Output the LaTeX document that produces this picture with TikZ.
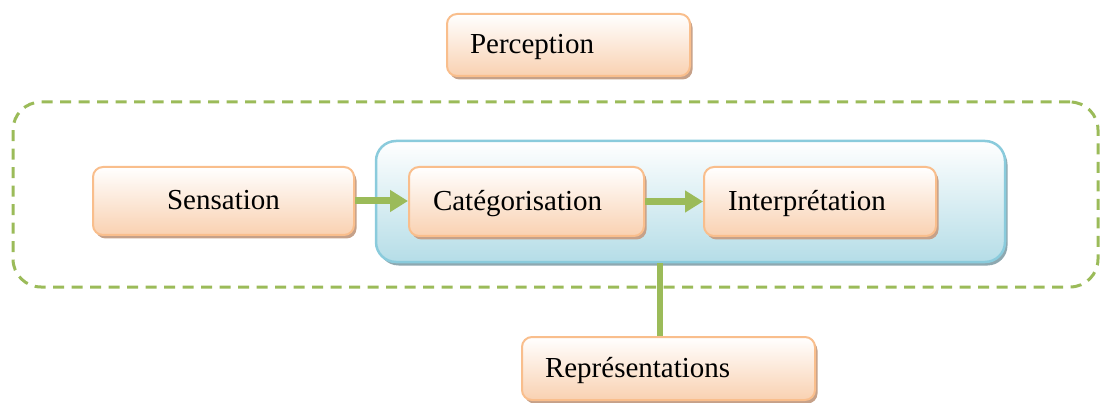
\documentclass[tikz,border=0pt]{standalone}
\usepackage{fontspec}
\setmainfont{Liberation Serif}
\usetikzlibrary{shadows,arrows.meta}
\definecolor{oborder}{HTML}{F9BE8C}
\definecolor{obottom}{HTML}{F9D1B1}
\definecolor{oshadow}{HTML}{C6A189}
\definecolor{bborder}{HTML}{8ACBDC}
\definecolor{bbottom}{HTML}{B5DDE7}
\definecolor{bshadow}{HTML}{8EA8B0}
\definecolor{lgreen}{HTML}{9BBB59}
\tikzset{
  obox/.style={draw=oborder, line width=2pt, rounded corners=10pt,
    top color=white, bottom color=obottom,
    drop shadow={shadow xshift=2.5pt, shadow yshift=-3.5pt, fill=oshadow, opacity=1},
    font=\fontsize{29}{34}\selectfont, text height=19pt, text depth=1pt},
  lbox/.style={obox, align=left, inner ysep=0pt},
  bluebox/.style={draw=bborder, line width=2.5pt, rounded corners=20pt,
    top color=white, bottom color=bbottom,
    drop shadow={shadow xshift=2.5pt, shadow yshift=-3.5pt, fill=bshadow, opacity=1}},
  dashbox/.style={draw=lgreen, line width=3pt, dash pattern=on 11pt off 7.5pt,
    rounded corners=28pt},
  garrow/.style={draw=lgreen, line width=7pt, -{Triangle[length=18pt,width=21pt]}},
  gline/.style={draw=lgreen, line width=6pt}
}
\begin{document}
\begin{tikzpicture}[x=1pt,y=-1pt]
\useasboundingbox (0,0) rectangle (1102,403);
\node[dashbox, minimum width=1085pt, minimum height=185pt] (group) at (555.5,194.5) {};
\node[bluebox, minimum width=629pt, minimum height=121pt] (blue) at (690.5,201.5) {};
\node[lbox, text width=197pt, inner xsep=23pt, minimum height=62pt] (perc) at (568.5,45) {Perception};
\node[obox, minimum width=261pt, minimum height=68pt, align=center] (sens) at (223.5,201) {Sensation};
\node[lbox, text width=187pt, inner xsep=24pt, minimum height=69pt] (cat) at (526.5,201.5) {Catégorisation};
\node[lbox, text width=184pt, inner xsep=24pt, minimum height=69pt] (interp) at (820,201.5) {Interprétation};
\node[lbox, text width=247pt, inner xsep=23pt, minimum height=63pt] (repr) at (668.5,368.5) {Représentations};
\draw[garrow] (sens.east) -- (sens.east -| cat.west);
\draw[garrow] (cat.east) -- (cat.east -| interp.west);
\coordinate (cx) at (660,0);
\draw[gline] (blue.south -| cx) -- (repr.north -| cx);
\end{tikzpicture}
\end{document}
